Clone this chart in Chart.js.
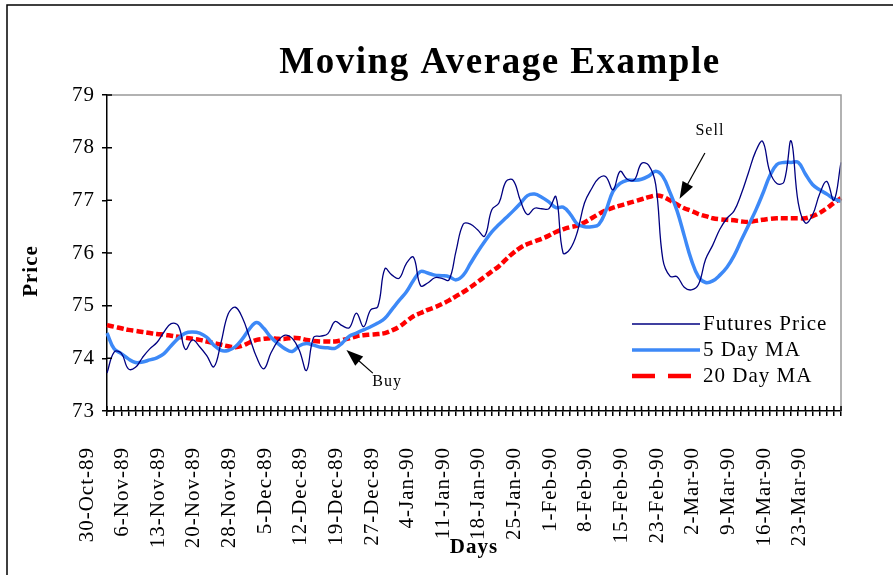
<!DOCTYPE html>
<html>
<head>
<meta charset="utf-8">
<title>Moving Average Example</title>
<script src="https://cdn.jsdelivr.net/npm/chart.js@4.4.1/dist/chart.umd.min.js"></script>
<style>
  html, body { margin: 0; padding: 0; background: #fff; }
</style>
</head>
<body>
<canvas id="maChart" width="893" height="575"></canvas>
<script>
// trading days, 30-Oct-89 .. 28-Mar-90
const days = [
  "30-Oct-89","31-Oct-89","1-Nov-89","2-Nov-89","3-Nov-89",
  "6-Nov-89","7-Nov-89","8-Nov-89","9-Nov-89","10-Nov-89",
  "13-Nov-89","14-Nov-89","15-Nov-89","16-Nov-89","17-Nov-89",
  "20-Nov-89","21-Nov-89","22-Nov-89","24-Nov-89","27-Nov-89",
  "28-Nov-89","29-Nov-89","30-Nov-89","1-Dec-89","4-Dec-89",
  "5-Dec-89","6-Dec-89","7-Dec-89","8-Dec-89","11-Dec-89",
  "12-Dec-89","13-Dec-89","14-Dec-89","15-Dec-89","18-Dec-89",
  "19-Dec-89","20-Dec-89","21-Dec-89","22-Dec-89","26-Dec-89",
  "27-Dec-89","28-Dec-89","29-Dec-89","2-Jan-90","3-Jan-90",
  "4-Jan-90","5-Jan-90","8-Jan-90","9-Jan-90","10-Jan-90",
  "11-Jan-90","12-Jan-90","15-Jan-90","16-Jan-90","17-Jan-90",
  "18-Jan-90","19-Jan-90","22-Jan-90","23-Jan-90","24-Jan-90",
  "25-Jan-90","26-Jan-90","29-Jan-90","30-Jan-90","31-Jan-90",
  "1-Feb-90","2-Feb-90","5-Feb-90","6-Feb-90","7-Feb-90",
  "8-Feb-90","9-Feb-90","12-Feb-90","13-Feb-90","14-Feb-90",
  "15-Feb-90","16-Feb-90","20-Feb-90","21-Feb-90","22-Feb-90",
  "23-Feb-90","26-Feb-90","27-Feb-90","28-Feb-90","1-Mar-90",
  "2-Mar-90","5-Mar-90","6-Mar-90","7-Mar-90","8-Mar-90",
  "9-Mar-90","12-Mar-90","13-Mar-90","14-Mar-90","15-Mar-90",
  "16-Mar-90","19-Mar-90","20-Mar-90","21-Mar-90","22-Mar-90",
  "23-Mar-90","26-Mar-90","27-Mar-90","28-Mar-90"
];

const futuresPrice = [
  73.72, 74.12, 74.10, 73.80, 73.83, 74.02, 74.18, 74.30, 74.50, 74.66,
  74.62, 74.17, 74.35, 74.22, 74.05, 73.84, 74.30, 74.84, 74.97, 74.77,
  74.40, 74.02, 73.80, 74.10, 74.33, 74.44, 74.38, 74.15, 73.77, 74.40,
  74.42, 74.47, 74.70, 74.62, 74.58, 74.86, 74.60, 74.92, 74.98, 75.70,
  75.58, 75.52, 75.80, 75.92, 75.38, 75.43, 75.53, 75.52, 75.49, 76.05,
  76.55, 76.55, 76.44, 76.32, 76.82, 76.95, 77.36, 77.38, 77.00, 76.73,
  76.85, 76.84, 76.84, 77.07, 76.00, 76.08, 76.40, 76.95, 77.22, 77.42,
  77.45, 77.20, 77.55, 77.40, 77.39, 77.70, 77.67, 77.30, 75.88, 75.56,
  75.55, 75.35, 75.30, 75.40, 75.88, 76.15, 76.45, 76.66, 76.80, 77.12,
  77.52, 77.92, 78.12, 77.55, 77.32, 77.35, 78.13, 76.95, 76.57, 76.72,
  77.12, 77.36, 77.00, 77.72
];

const ma5 = [
  74.48, 74.18, 74.09, 73.99, 73.92, 73.93, 73.97, 74.01, 74.09, 74.24,
  74.38, 74.48, 74.50, 74.48, 74.40, 74.25, 74.15, 74.15, 74.22, 74.37,
  74.56, 74.68, 74.57, 74.40, 74.28, 74.18, 74.13, 74.24, 74.28, 74.25,
  74.21, 74.20, 74.19, 74.29, 74.42, 74.48, 74.54, 74.60, 74.67, 74.76,
  74.93, 75.10, 75.26, 75.48, 75.65, 75.62, 75.58, 75.57, 75.55, 75.49,
  75.58, 75.80, 76.02, 76.22, 76.40, 76.54, 76.67, 76.80, 76.94, 77.09,
  77.12, 77.06, 76.97, 76.86, 76.87, 76.74, 76.55, 76.50, 76.50, 76.54,
  76.80, 77.17, 77.32, 77.38, 77.38, 77.40, 77.46, 77.55, 77.45, 77.15,
  76.80, 76.33, 75.87, 75.55, 75.44, 75.47, 75.58, 75.73, 75.95, 76.24,
  76.52, 76.80, 77.12, 77.46, 77.68, 77.72, 77.72, 77.72, 77.50, 77.30,
  77.20, 77.12, 77.03, 76.98
];

const ma20 = [
  74.63, 74.60, 74.57, 74.54, 74.52, 74.50, 74.48, 74.46, 74.45, 74.43,
  74.41, 74.39, 74.37, 74.35, 74.32, 74.29, 74.26, 74.23, 74.21, 74.24,
  74.30, 74.35, 74.37, 74.38, 74.37, 74.37, 74.39, 74.38, 74.35, 74.33,
  74.32, 74.32, 74.32, 74.35, 74.38, 74.42, 74.44, 74.45, 74.46, 74.48,
  74.53, 74.60, 74.70, 74.80, 74.86, 74.92, 74.97, 75.03, 75.10, 75.18,
  75.26, 75.35, 75.45, 75.55, 75.65, 75.75, 75.88, 76.00, 76.10, 76.17,
  76.22, 76.27, 76.33, 76.40, 76.45, 76.49, 76.52, 76.58, 76.66, 76.74,
  76.81, 76.86, 76.90, 76.94, 76.98, 77.02, 77.06, 77.09, 77.07, 77.00,
  76.92, 76.85, 76.80, 76.74, 76.70, 76.66, 76.64, 76.63, 76.62, 76.60,
  76.59, 76.61, 76.63, 76.65, 76.66, 76.66, 76.66, 76.66, 76.66, 76.70,
  76.76, 76.85, 76.95, 77.04
];

const serif = '"Liberation Serif", "Times New Roman", serif';

// Buy / Sell notes, in (day index, price) units
const notes = [
  { text: "Sell", at: [84.6, 78.32], from: [83.9, 77.90], to: [80.35, 77.03] },
  { text: "Buy",  at: [39.3, 73.55], from: [37.3, 73.72], to: [33.6, 74.16] }
];

const decor = {
  id: "decor",
  beforeDraw(chart) {
    const ctx = chart.ctx;
    ctx.save();
    ctx.fillStyle = "#fff";
    ctx.fillRect(0, 0, chart.width, chart.height);
    ctx.strokeStyle = "#000";
    ctx.lineWidth = 1.5;
    ctx.beginPath();
    ctx.moveTo(7, chart.height);
    ctx.lineTo(7, 5);
    ctx.lineTo(chart.width, 5);
    ctx.stroke();
    ctx.restore();
    ctx.letterSpacing = "1px";
  },
  afterDatasetsDraw(chart) {
    const { ctx, chartArea: a, scales } = chart;
    ctx.save();
    // top and right edge of the plot
    ctx.strokeStyle = "#999";
    ctx.lineWidth = 1.5;
    ctx.beginPath();
    ctx.moveTo(a.left, a.top);
    ctx.lineTo(a.right, a.top);
    ctx.lineTo(a.right, a.bottom);
    ctx.stroke();
    // tick marks crossing into the plot
    ctx.strokeStyle = "#000";
    ctx.beginPath();
    scales.x.ticks.forEach((t, i) => {
      const x = scales.x.getPixelForTick(i);
      ctx.moveTo(x, a.bottom - 5);
      ctx.lineTo(x, a.bottom);
    });
    scales.y.ticks.forEach((t, i) => {
      const y = scales.y.getPixelForTick(i);
      ctx.moveTo(a.left, y);
      ctx.lineTo(a.left + 5, y);
    });
    ctx.stroke();
    ctx.restore();
  },
  afterDraw(chart) {
    const { ctx, scales } = chart;
    ctx.save();
    ctx.fillStyle = "#000";
    ctx.textBaseline = "middle";

    ctx.letterSpacing = "1.5px";
    ctx.font = "bold 37px " + serif;
    ctx.textAlign = "center";
    ctx.fillText("Moving Average Example", 500, 63);

    ctx.letterSpacing = "1px";
    ctx.save();
    ctx.translate(32, 271);
    ctx.rotate(-Math.PI / 2);
    ctx.font = "bold 21px " + serif;
    ctx.fillText("Price", 0, 0);
    ctx.restore();

    // legend
    const lx = 632, lw = 68, ly = [324, 350, 376];
    chart.data.datasets.forEach((ds, i) => {
      ctx.save();
      ctx.strokeStyle = ds.borderColor;
      ctx.lineWidth = ds.borderWidth;
      ctx.setLineDash(ds.legendDash || []);
      ctx.beginPath();
      ctx.moveTo(lx, ly[i]);
      ctx.lineTo(lx + lw, ly[i]);
      ctx.stroke();
      ctx.restore();
      ctx.font = "21px " + serif;
      ctx.textAlign = "left";
      ctx.fillText(ds.label, lx + lw + 3, ly[i]);
    });

    // Buy / Sell arrows
    notes.forEach(n => {
      const px = p => [scales.x.getPixelForValue(p[0]), scales.y.getPixelForValue(p[1])];
      const [tx, ty] = px(n.at), [fx, fy] = px(n.from), [ex, ey] = px(n.to);
      ctx.font = "16px " + serif;
      ctx.textAlign = "center";
      ctx.fillText(n.text, tx, ty);
      const ang = Math.atan2(ey - fy, ex - fx);
      ctx.strokeStyle = "#000";
      ctx.lineWidth = 1.2;
      ctx.beginPath();
      ctx.moveTo(fx, fy);
      ctx.lineTo(ex - 10 * Math.cos(ang), ey - 10 * Math.sin(ang));
      ctx.stroke();
      ctx.beginPath();
      ctx.moveTo(ex, ey);
      ctx.lineTo(ex - 17 * Math.cos(ang) + 6 * Math.sin(ang), ey - 17 * Math.sin(ang) - 6 * Math.cos(ang));
      ctx.lineTo(ex - 17 * Math.cos(ang) - 6 * Math.sin(ang), ey - 17 * Math.sin(ang) + 6 * Math.cos(ang));
      ctx.closePath();
      ctx.fill();
    });
    ctx.restore();
    ctx.letterSpacing = "0px";
  }
};

new Chart(document.getElementById("maChart"), {
  type: "line",
  data: {
    labels: days,
    datasets: [
      {
        label: "Futures Price",
        data: futuresPrice,
        borderColor: "#000080",
        borderWidth: 1.3,
        tension: 0.4,
        pointRadius: 0
      },
      {
        label: "5 Day MA",
        data: ma5,
        borderColor: "#3d89f7",
        borderWidth: 3.5,
        tension: 0.4,
        pointRadius: 0
      },
      {
        label: "20 Day MA",
        data: ma20,
        borderColor: "#ff0000",
        borderWidth: 4.5,
        borderDash: [7, 3],
        legendDash: [23, 13],
        tension: 0.4,
        pointRadius: 0
      }
    ]
  },
  options: {
    responsive: false,
    animation: false,
    layout: { padding: { left: 10, right: 52, top: 95, bottom: 0 } },
    plugins: {
      legend: { display: false },
      tooltip: { enabled: false }
    },
    scales: {
      x: {
        offset: false,
        afterFit: s => { s.height = 164; s.paddingLeft = 0; s.paddingRight = 0; },
        border: { color: "#000", width: 1.5 },
        grid: { drawOnChartArea: false, tickLength: 5, color: "#000", lineWidth: 1.5 },
        ticks: {
          autoSkip: false,
          minRotation: 90,
          maxRotation: 90,
          labelOffset: -20,
          padding: 31,
          color: "#000",
          font: { family: serif, size: 21 },
          callback: function (value, index) {
            return index % 5 === 0 ? this.getLabelForValue(value) : "";
          }
        },
        title: {
          display: true,
          text: "Days",
          color: "#000",
          font: { family: serif, size: 21, weight: "bold" },
          padding: { top: 0, bottom: 15 }
        }
      },
      y: {
        min: 73,
        max: 79,
        afterFit: s => { s.width = 97; },
        border: { color: "#000", width: 1.5 },
        grid: { drawOnChartArea: false, tickLength: 5, color: "#000", lineWidth: 1.5 },
        ticks: {
          stepSize: 1,
          padding: 7,
          color: "#000",
          font: { family: serif, size: 21 }
        }
      }
    }
  },
  plugins: [decor]
});
</script>
</body>
</html>
